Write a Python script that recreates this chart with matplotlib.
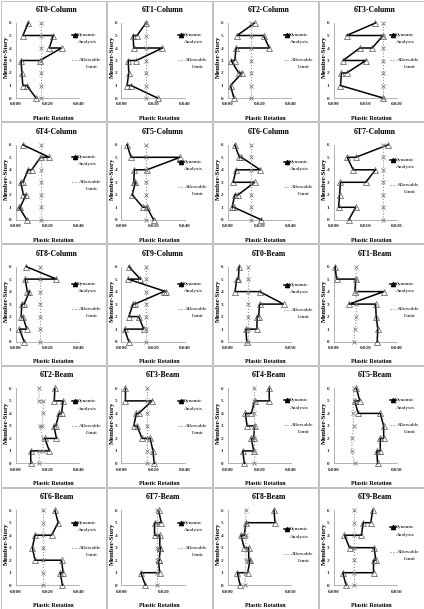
import matplotlib
matplotlib.use("Agg")
import matplotlib.pyplot as plt
from matplotlib.patches import Rectangle

# ---------------- data (x = plastic rotation, y = member-story) ----------------
titles = ["6T0-Column", "6T1-Column", "6T2-Column", "6T3-Column",
          "6T4-Column", "6T5-Column", "6T6-Column", "6T7-Column",
          "6T8-Column", "6T9-Column", "6T0-Beam", "6T1-Beam",
          "6T2-Beam", "6T3-Beam", "6T4-Beam", "6T5-Beam",
          "6T6-Beam", "6T7-Beam", "6T8-Beam", "6T9-Beam"]

x_max = [0.04, 0.04, 0.04, 0.02,
         0.04, 0.04, 0.04, 0.02,
         0.04, 0.04, 0.05, 0.04,
         0.04, 0.04, 0.04, 0.05,
         0.04, 0.03, 0.05, 0.05]

x_ticks = {0.04: [0.0, 0.02, 0.04], 0.02: [0.0, 0.01, 0.02],
           0.05: [0.0, 0.05], 0.03: [0.0, 0.02]}

story_ticks = [0, 1, 2, 3, 4, 5, 6]

t0c_x = [0.0081, 0.0046, 0.0238, 0.0213, 0.0290, 0.0154, 0.0035, 0.0040, 0.0046, 0.0071, 0.0129]
t0c_y = [6, 5, 5, 4, 4, 3, 3, 2, 1, 1, 0]
t0c_lim = [0.0158, 0.0158, 0.0158, 0.0158, 0.0158, 0.0158, 0.0158]

t1c_x = [0.0154, 0.0098, 0.0073, 0.0077, 0.0258, 0.0094, 0.0042, 0.0046, 0.0035, 0.0060, 0.0227]
t1c_y = [6, 5, 5, 4, 4, 3, 3, 2, 1, 1, 0]
t1c_lim = [0.0154, 0.0154, 0.0154, 0.0154, 0.0154, 0.0154, 0.0154]

t2c_x = [0.0171, 0.0060, 0.0227, 0.0263, 0.0054, 0.0046, 0.0023, 0.0071, 0.0092, 0.0019, 0.0040]
t2c_y = [6, 5, 5, 4, 4, 3, 3, 2, 2, 1, 0]
t2c_lim = [0.0148, 0.0148, 0.0148, 0.0148, 0.0148, 0.0148, 0.0148]

t3c_x = [0.0132, 0.0041, 0.0156, 0.0122, 0.0083, 0.0030, 0.0102, 0.0041, 0.0025, 0.0022, 0.0156]
t3c_y = [6, 5, 5, 4, 4, 3, 3, 2, 2, 1, 0]
t3c_lim = [0.0156, 0.0156, 0.0156, 0.0156, 0.0156, 0.0156, 0.0156]

t4c_x = [0.0046, 0.0213, 0.0158, 0.0102, 0.0081, 0.0046, 0.0033, 0.0050, 0.0067, 0.0029, 0.0023, 0.0071]
t4c_y = [6, 5, 5, 4, 4, 3, 3, 2, 2, 1, 1, 0]
t4c_lim = [0.0158, 0.0158, 0.0158, 0.0158, 0.0158, 0.0158, 0.0158]

t5c_x = [0.0035, 0.0060, 0.0369, 0.0160, 0.0081, 0.0077, 0.0088, 0.0067, 0.0135, 0.0160, 0.0202]
t5c_y = [6, 5, 5, 4, 4, 3, 3, 2, 1, 1, 0]
t5c_lim = [0.0154, 0.0154, 0.0154, 0.0154, 0.0154, 0.0154, 0.0154]

t6c_x = [0.0046, 0.0075, 0.0088, 0.0206, 0.0054, 0.0035, 0.0171, 0.0067, 0.0046, 0.0029, 0.0040, 0.0213]
t6c_y = [6, 5, 5, 4, 4, 3, 3, 2, 2, 1, 1, 0]
t6c_lim = [0.0150, 0.0150, 0.0150, 0.0150, 0.0150, 0.0150, 0.0150]

t7c_x = [0.0172, 0.0070, 0.0043, 0.0062, 0.0132, 0.0102, 0.0022, 0.0019, 0.0016, 0.0070, 0.0048]
t7c_y = [6, 5, 5, 4, 4, 3, 3, 2, 1, 1, 0]
t7c_lim = [0.0156, 0.0156, 0.0156, 0.0156, 0.0156, 0.0156, 0.0156]

t8c_x = [0.0067, 0.0258, 0.0060, 0.0075, 0.0088, 0.0054, 0.0040, 0.0035, 0.0046, 0.0071, 0.0025, 0.0054]
t8c_y = [6, 5, 5, 4, 4, 3, 3, 2, 2, 1, 1, 0]
t8c_lim = [0.0154, 0.0154, 0.0154, 0.0154, 0.0154, 0.0154, 0.0154]

t9c_x = [0.0046, 0.0119, 0.0040, 0.0279, 0.0265, 0.0083, 0.0073, 0.0046, 0.0108, 0.0140, 0.0019, 0.0046]
t9c_y = [6, 5, 5, 4, 4, 3, 3, 2, 2, 1, 1, 0]
t9c_lim = [0.0154, 0.0154, 0.0154, 0.0154, 0.0154, 0.0154, 0.0154]

t0b_x = [0.0091, 0.0086, 0.0073, 0.0059, 0.0253, 0.0441, 0.0253, 0.0245, 0.0234, 0.0231, 0.0145, 0.0151]
t0b_y = [6, 5, 5, 4, 4, 3, 3, 2, 2, 1, 1, 0]
t0b_lim = [0.0159, 0.0159, 0.0159, 0.0159, 0.0159, 0.0159, 0.0159]

t1b_x = [0.0010, 0.0019, 0.0140, 0.0135, 0.0317, 0.0098, 0.0265, 0.0269, 0.0279, 0.0275]
t1b_y = [6, 5, 5, 4, 4, 3, 3, 2, 1, 0]
t1b_lim = [0.0129, 0.0135, 0.0144, 0.0144, 0.0144, 0.0144, 0.0144]

t2b_x = [0.0248, 0.0244, 0.0300, 0.0290, 0.0275, 0.0254, 0.0242, 0.0258, 0.0185, 0.0213, 0.0096, 0.0096]
t2b_y = [6, 5, 5, 4, 4, 3, 3, 2, 2, 1, 1, 0]
t2b_lim_x = [0.0148, 0.0148, 0.0175, 0.0175, 0.0165, 0.0154, 0.0171, 0.0175, 0.0148, 0.0150]
t2b_lim_y = [6, 5, 5, 4, 3, 3, 2, 1, 1, 0]

t3b_x = [0.0025, 0.0025, 0.0192, 0.0108, 0.0094, 0.0077, 0.0098, 0.0129, 0.0181, 0.0198, 0.0206]
t3b_y = [6, 5, 5, 4, 4, 3, 3, 2, 2, 1, 0]
t3b_lim = [0.0160, 0.0160, 0.0160, 0.0160, 0.0160, 0.0160, 0.0160]

t4b_x = [0.0263, 0.0263, 0.0171, 0.0150, 0.0113, 0.0123, 0.0171, 0.0165, 0.0150, 0.0165, 0.0096, 0.0106]
t4b_y = [6, 5, 5, 4, 4, 3, 3, 2, 2, 1, 1, 0]
t4b_lim = [0.0165, 0.0165, 0.0165, 0.0165, 0.0165, 0.0165, 0.0165]

t5b_x = [0.0180, 0.0207, 0.0167, 0.0194, 0.0368, 0.0395, 0.0395, 0.0368, 0.0368, 0.0341, 0.0347]
t5b_y = [6, 5, 5, 4, 4, 3, 2, 2, 1, 1, 0]
t5b_lim = [0.0167, 0.0145, 0.0145, 0.0159, 0.0153, 0.0159, 0.0159]

t6b_x = [0.0248, 0.0269, 0.0227, 0.0123, 0.0106, 0.0123, 0.0290, 0.0300, 0.0281, 0.0296]
t6b_y = [6, 5, 4, 4, 3, 2, 2, 1, 1, 0]
t6b_lim = [0.0175, 0.0175, 0.0175, 0.0175, 0.0175, 0.0175, 0.0175]

t7b_x = [0.0175, 0.0188, 0.0156, 0.0156, 0.0181, 0.0181, 0.0184, 0.0178, 0.0175, 0.0180, 0.0091, 0.0113]
t7b_y = [6, 5, 5, 4, 4, 3, 3, 2, 2, 1, 1, 0]
t7b_lim = [0.0169, 0.0169, 0.0169, 0.0169, 0.0169, 0.0169, 0.0169]

t8b_x = [0.0366, 0.0374, 0.0145, 0.0132, 0.0105, 0.0132, 0.0167, 0.0167, 0.0177, 0.0159, 0.0078, 0.0099]
t8b_y = [6, 5, 5, 4, 4, 3, 3, 2, 2, 1, 1, 0]
t8b_lim = [0.0137, 0.0140, 0.0145, 0.0145, 0.0145, 0.0145, 0.0145]

t9b_x = [0.0309, 0.0293, 0.0234, 0.0220, 0.0086, 0.0126, 0.0320, 0.0333, 0.0315, 0.0315, 0.0073, 0.0099]
t9b_y = [6, 5, 5, 4, 4, 3, 3, 2, 2, 1, 1, 0]
t9b_lim = [0.0159, 0.0159, 0.0159, 0.0159, 0.0159, 0.0159, 0.0159]

dyn_series = [(t0c_x, t0c_y), (t1c_x, t1c_y), (t2c_x, t2c_y), (t3c_x, t3c_y),
              (t4c_x, t4c_y), (t5c_x, t5c_y), (t6c_x, t6c_y), (t7c_x, t7c_y),
              (t8c_x, t8c_y), (t9c_x, t9c_y), (t0b_x, t0b_y), (t1b_x, t1b_y),
              (t2b_x, t2b_y), (t3b_x, t3b_y), (t4b_x, t4b_y), (t5b_x, t5b_y),
              (t6b_x, t6b_y), (t7b_x, t7b_y), (t8b_x, t8b_y), (t9b_x, t9b_y)]

lim_series = [(t0c_lim, story_ticks), (t1c_lim, story_ticks), (t2c_lim, story_ticks), (t3c_lim, story_ticks),
              (t4c_lim, story_ticks), (t5c_lim, story_ticks), (t6c_lim, story_ticks), (t7c_lim, story_ticks),
              (t8c_lim, story_ticks), (t9c_lim, story_ticks), (t0b_lim, story_ticks), (t1b_lim, story_ticks),
              (t2b_lim_x, t2b_lim_y), (t3b_lim, story_ticks), (t4b_lim, story_ticks), (t5b_lim, story_ticks),
              (t6b_lim, story_ticks), (t7b_lim, story_ticks), (t8b_lim, story_ticks), (t9b_lim, story_ticks)]

# legend vertical offset (pixels from top of each panel)
legend_off = [35, 35, 35, 35,
              35, 40, 40, 38,
              40, 40, 41, 40,
              36, 36, 35, 35,
              35.5, 35.5, 42, 40]

# ---------------- drawing ----------------
W, H = 424, 609
fig = plt.figure(figsize=(W / 100, H / 100), dpi=100)
bg = fig.add_axes([0, 0, 1, 1])
bg.set_xlim(0, W)
bg.set_ylim(H, 0)
bg.axis("off")

SERIF = "Liberation Serif"
COL_W = W / 4.0
ROW_H = H / 5.0

for i, title in enumerate(titles):
    r, c = divmod(i, 4)
    x0 = c * COL_W
    y0 = r * ROW_H
    bg.add_patch(Rectangle((x0 + 0.5, y0 + 0.5), COL_W - 1, ROW_H - 1,
                           fill=False, ec="#bfbfbf", lw=0.7))

    ax = fig.add_axes([(x0 + 15.5) / W, 1 - (y0 + 98) / H, 63.5 / W, 75 / H])
    ax.set_facecolor("none")
    xm = x_max[i]
    ax.set_xlim(0, xm)
    ax.set_ylim(0, 6)
    for s in ("top", "right"):
        ax.spines[s].set_visible(False)
    for s in ("left", "bottom"):
        ax.spines[s].set_color("#a6a6a6")
        ax.spines[s].set_linewidth(0.6)
    ax.set_xticks(x_ticks[xm])
    ax.set_xticklabels(["%.3f" % v for v in x_ticks[xm]])
    ax.set_yticks(story_ticks)
    ax.set_yticklabels([str(v) for v in story_ticks])
    ax.tick_params(length=0, pad=3.2, labelsize=3.7, colors="#222222")
    for lab in ax.get_xticklabels() + ax.get_yticklabels():
        lab.set_family(SERIF)
        lab.set_fontweight("bold")

    dx, dy = dyn_series[i]
    ax.plot(dx, dy, "-", color="black", lw=1.1, marker="^", ms=3.7,
            mfc="none", mec="#555555", mew=0.5, clip_on=False, zorder=3)
    lx, ly = lim_series[i]
    ax.plot(lx, ly, ":", color="#8c8c8c", lw=0.8, marker="x", ms=2.3,
            mew=0.55, mec="#777777", clip_on=False, zorder=4)

    bg.text(x0 + 57, y0 + 10, title, ha="center", va="center", fontsize=5.6,
            fontweight="bold", family=SERIF)
    bg.text(x0 + 6, y0 + 57, "Member-Story", ha="center", va="center", rotation=90,
            fontsize=4.9, fontweight="bold", family=SERIF)
    bg.text(x0 + 53, y0 + 118.2, "Plastic Rotation", ha="center", va="center",
            fontsize=4.3, fontweight="bold", family=SERIF)

    ly0 = y0 + legend_off[i]
    bg.plot([x0 + 71.5, x0 + 77.5], [ly0, ly0], color="black", lw=1.1)
    bg.plot([x0 + 74.5], [ly0], marker="^", ms=3.0, mfc="black", mec="black")
    bg.text(x0 + 86.5, ly0, "Dynamic", ha="center", va="center", fontsize=3.9, family=SERIF)
    bg.text(x0 + 87.5, ly0 + 7.5, "Analysis", ha="center", va="center", fontsize=3.9, family=SERIF)
    bg.plot([x0 + 71.5, x0 + 77.5], [ly0 + 25, ly0 + 25], ":", color="#808080", lw=0.8)
    bg.text(x0 + 90, ly0 + 25, "Allowable", ha="center", va="center", fontsize=3.9, family=SERIF)
    bg.text(x0 + 92, ly0 + 32, "Limit", ha="center", va="center", fontsize=3.9, family=SERIF)

fig.savefig("out.png", dpi=100)
